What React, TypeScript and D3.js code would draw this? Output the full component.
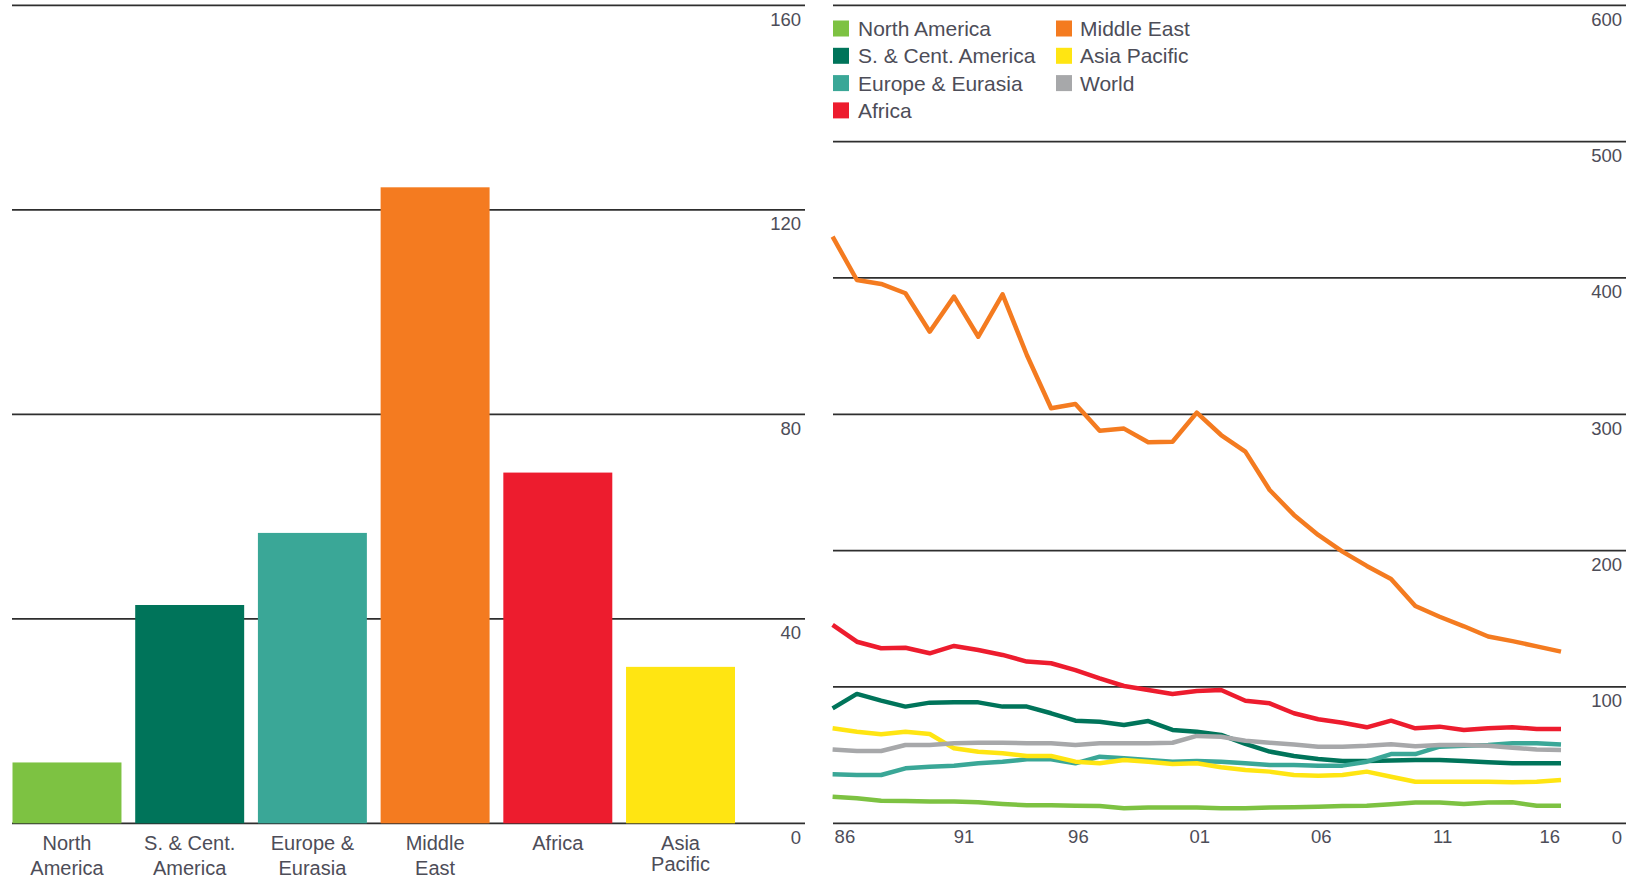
import React from "react";
import * as d3 from "d3";

const W = 1628;
const H = 878;

// Left bar chart: R/P by region (2016)
const barCategories = ["North America", "S. & Cent. America", "Europe & Eurasia", "Middle East", "Africa", "Asia Pacific"];
const barLabelLines = [["North", "America"], ["S. & Cent.", "America"], ["Europe &", "Eurasia"], ["Middle", "East"], ["Africa"], ["Asia", "Pacific"]];
const barValues = [11.9, 42.7, 56.8, 124.4, 68.6, 30.6];
const barColors = ["#7dc242", "#00745a", "#3aa797", "#f47b20", "#ed1c2e", "#ffe512"];
const leftTicks = [0, 40, 80, 120, 160];

// Right line chart: R/P history
const years = [1986, 1987, 1988, 1989, 1990, 1991, 1992, 1993, 1994, 1995, 1996, 1997, 1998, 1999, 2000, 2001, 2002, 2003, 2004, 2005, 2006, 2007, 2008, 2009, 2010, 2011, 2012, 2013, 2014, 2015, 2016];
const yearTickLabels = ["86", "91", "96", "01", "06", "11", "16"];
const yearTickValues = [1986, 1991, 1996, 2001, 2006, 2011, 2016];
const rightTicks = [0, 100, 200, 300, 400, 500, 600];

const northAmerica = [19.5, 18.3, 16.6, 16.4, 15.9, 15.9, 15.4, 14.2, 13.2, 13.2, 12.9, 12.7, 11.0, 11.5, 11.5, 11.5, 11.0, 11.0, 11.5, 11.7, 12.2, 12.7, 12.9, 13.9, 15.2, 15.2, 14.2, 15.2, 15.4, 12.9, 12.9];
const southCentAmerica = [84.3, 94.9, 90.0, 85.6, 88.5, 88.7, 88.7, 85.6, 85.6, 80.7, 75.3, 74.5, 72.1, 75.0, 68.5, 67.2, 64.8, 58.2, 52.6, 49.4, 47.2, 45.7, 45.7, 46.0, 46.4, 46.4, 45.7, 44.7, 44.0, 44.0, 44.0];
const europeEurasia = [35.9, 35.4, 35.4, 40.3, 41.5, 42.2, 44.0, 45.2, 46.9, 46.9, 44.0, 48.9, 47.7, 46.4, 45.2, 45.7, 45.2, 44.0, 42.8, 42.8, 42.3, 42.3, 45.2, 50.8, 50.8, 56.2, 56.9, 57.4, 58.7, 58.7, 57.8];
const africa = [145.5, 133.2, 128.4, 128.8, 124.7, 130.1, 127.1, 123.5, 118.6, 117.4, 112.4, 106.3, 100.7, 97.8, 94.9, 97.0, 97.8, 89.9, 88.0, 80.7, 76.3, 73.8, 70.4, 75.3, 69.7, 70.9, 68.4, 69.7, 70.4, 69.2, 69.2];
const middleEast = [430.3, 398.5, 395.6, 388.8, 360.6, 386.3, 356.9, 388.0, 343.5, 304.4, 307.6, 288.0, 289.5, 279.5, 279.9, 301.2, 284.8, 272.6, 244.5, 226.2, 211.5, 199.3, 188.8, 179.2, 159.4, 151.5, 144.5, 137.0, 133.6, 129.8, 125.9];
const asiaPacific = [69.7, 67.2, 65.3, 67.2, 65.5, 55.0, 52.5, 51.3, 49.4, 49.4, 45.2, 44.0, 46.4, 45.2, 43.5, 44.0, 41.1, 39.1, 37.9, 35.4, 34.9, 35.4, 37.9, 34.2, 30.5, 30.5, 30.5, 30.5, 30.1, 30.5, 31.7];
const world = [54.2, 53.0, 53.0, 57.4, 57.4, 58.7, 59.1, 59.1, 58.7, 58.7, 57.4, 58.7, 58.7, 58.7, 59.1, 64.1, 63.5, 60.6, 59.1, 57.8, 56.2, 56.2, 56.9, 58.0, 56.6, 57.4, 57.4, 56.9, 55.4, 54.2, 53.8];

const seriesNames = ["North America", "S. & Cent. America", "Europe & Eurasia", "Africa", "Middle East", "Asia Pacific", "World"];
const seriesValues = [northAmerica, southCentAmerica, europeEurasia, africa, middleEast, asiaPacific, world];
const seriesColors = ["#7dc242", "#00745a", "#3aa797", "#ed1c2e", "#f47b20", "#ffe512", "#a7a8aa"];

const legendCol1 = ["North America", "S. & Cent. America", "Europe & Eurasia", "Africa"];
const legendCol2 = ["Middle East", "Asia Pacific", "World"];

const FONT = "'Liberation Sans', Arial, sans-serif";
const TEXT = "#4d4d58";
const GRID = "#2e2e2e";

export default function App() {
  // Left chart scales
  const yL = d3.scaleLinear().domain([0, 160]).range([823.3, 5.3]);
  const xL = d3.scaleBand<string>().domain(barCategories).range([12.5, 735]).paddingInner(0.112).paddingOuter(0);
  const leftX0 = 12;
  const leftX1 = 805;
  const leftLabelX = 801;

  // Right chart scales
  const yR = d3.scaleLinear().domain([0, 600]).range([823.3, 5.3]);
  const xR = d3.scaleLinear().domain([1986, 2016]).range([832.6, 1561]);
  const rightX0 = 833;
  const rightX1 = 1626;
  const rightLabelX = 1622;

  const line = d3
    .line<number>()
    .x((_, i) => xR(years[i]))
    .y((d) => yR(d))
    .curve(d3.curveLinear);

  const colorOf = (name: string) => seriesColors[seriesNames.indexOf(name)];

  const yearLabelX = (yv: number, i: number) => {
    if (i === 0) return xR(yv) + 2;
    if (i === yearTickValues.length - 1) return xR(yv) - 1;
    if (yv === 1991) return xR(yv) + 10;
    return xR(yv) + 3;
  };

  return (
    <svg width={W} height={H} style={{ position: "absolute", left: 0, top: 0, display: "block", background: "#fff" }} fontFamily={FONT}>
      {/* Left grid */}
      {leftTicks.map((t) => (
        <g key={"lg" + t}>
          <line x1={leftX0} x2={leftX1} y1={yL(t)} y2={yL(t)} stroke={GRID} strokeWidth={1.8} />
          <text x={leftLabelX} y={yL(t) + 20.5} textAnchor="end" fontSize={18.5} fill={TEXT}>
            {t}
          </text>
        </g>
      ))}
      {/* Bars */}
      {barCategories.map((c, i) => (
        <rect key={c} x={xL(c)} y={yL(barValues[i])} width={xL.bandwidth()} height={yL(0) - yL(barValues[i])} fill={barColors[i]} />
      ))}
      {/* Bar category labels */}
      {barCategories.map((c, i) => (
        <text key={"bl" + c} x={(xL(c) as number) + xL.bandwidth() / 2} textAnchor="middle" fontSize={20} fill={TEXT}>
          {barLabelLines[i].map((ln, j) => (
            <tspan key={j} x={(xL(c) as number) + xL.bandwidth() / 2} y={850 + j * (c === "Asia Pacific" ? 21 : 24.5)}>
              {ln}
            </tspan>
          ))}
        </text>
      ))}

      {/* Right grid */}
      {rightTicks.map((t) => (
        <g key={"rg" + t}>
          <line x1={rightX0} x2={rightX1} y1={yR(t)} y2={yR(t)} stroke={GRID} strokeWidth={1.8} />
          <text x={rightLabelX} y={yR(t) + 20.5} textAnchor="end" fontSize={18.5} fill={TEXT}>
            {t}
          </text>
        </g>
      ))}
      {/* Year labels */}
      {yearTickValues.map((yv, i) => (
        <text
          key={"yt" + yv}
          x={yearLabelX(yv, i)}
          y={843}
          textAnchor={i === 0 ? "start" : i === yearTickValues.length - 1 ? "end" : "middle"}
          fontSize={18.5}
          fill={TEXT}
        >
          {yearTickLabels[i]}
        </text>
      ))}
      {/* Lines */}
      {seriesNames.map((n, i) => (
        <path key={"ln" + n} d={line(seriesValues[i]) || ""} fill="none" stroke={seriesColors[i]} strokeWidth={4.5} strokeLinejoin="round" strokeLinecap="butt" />
      ))}

      {/* Legend */}
      {legendCol1.map((n, i) => (
        <g key={"l1" + n} transform={`translate(833, ${28.5 + i * 27.3})`}>
          <rect x={0} y={-8} width={16} height={16} fill={colorOf(n)} />
          <text x={25} y={7.5} fontSize={21} fill={TEXT}>
            {n}
          </text>
        </g>
      ))}
      {legendCol2.map((n, i) => (
        <g key={"l2" + n} transform={`translate(1056, ${28.5 + i * 27.3})`}>
          <rect x={0} y={-8} width={16} height={16} fill={colorOf(n)} />
          <text x={24} y={7.5} fontSize={21} fill={TEXT}>
            {n}
          </text>
        </g>
      ))}
    </svg>
  );
}
